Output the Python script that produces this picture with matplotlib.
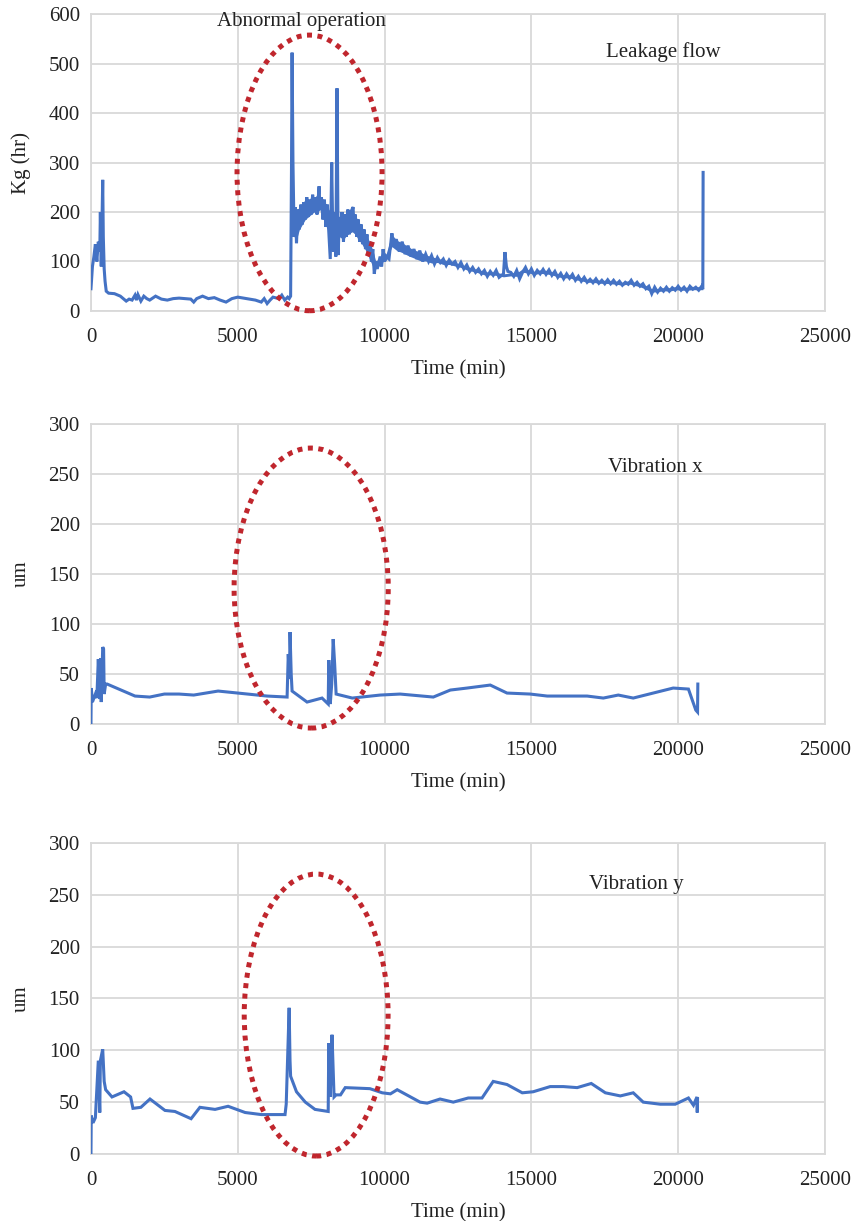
import matplotlib
matplotlib.use("Agg")
import matplotlib.pyplot as plt
from matplotlib.patches import Ellipse

plt.rcParams['font.family'] = ['Liberation Serif', 'DejaVu Serif']

# leakage flow, (time min, kg/hr)
leak_pts = [
    (0, 45), (50, 90), (100, 110), (150, 135), (200, 100), (250, 140), (300, 120),
    (320, 200), (350, 90), (380, 190), (400, 265), (420, 150), (450, 85), (480, 60),
    (520, 40), (600, 36), (800, 35), (1000, 30), (1100, 25), (1200, 20), (1300, 24),
    (1400, 22), (1500, 32), (1550, 22), (1600, 33), (1700, 20), (1800, 30), (1900, 25),
    (2000, 22), (2200, 30), (2400, 24), (2600, 22), (2800, 25), (3000, 26), (3200, 25),
    (3400, 24), (3500, 18), (3600, 25), (3800, 30), (4000, 25), (4200, 27), (4400, 22),
    (4600, 18), (4800, 25), (5000, 28), (5200, 26), (5400, 24), (5600, 22), (5800, 18),
    (5900, 25), (6000, 15), (6100, 22), (6200, 28), (6400, 25), (6500, 32), (6600, 22),
    (6700, 28), (6750, 25), (6800, 30), (6830, 290), (6850, 522), (6880, 300),
    (6920, 150), (6960, 210), (7000, 137), (7050, 205), (7100, 165), (7150, 215),
    (7200, 175), (7250, 220), (7300, 185), (7350, 230), (7400, 190), (7450, 225),
    (7500, 195), (7550, 235), (7600, 200), (7650, 230), (7700, 195), (7770, 252),
    (7800, 205), (7850, 230), (7900, 185), (7950, 225), (8000, 170), (8050, 215),
    (8100, 160), (8150, 105), (8200, 300), (8230, 180), (8260, 120), (8300, 200),
    (8340, 110), (8380, 450), (8420, 113), (8460, 190), (8500, 150), (8550, 200),
    (8600, 140), (8650, 195), (8700, 150), (8750, 205), (8800, 155), (8850, 200),
    (8930, 210), (8950, 160), (9000, 195), (9050, 150), (9100, 185), (9150, 140),
    (9200, 175), (9250, 135), (9300, 165), (9350, 125), (9400, 155), (9450, 115),
    (9500, 140), (9550, 100), (9600, 125), (9650, 75), (9700, 100), (9750, 85),
    (9850, 110), (9900, 90), (9950, 125), (10000, 100), (10050, 110), (10150, 105),
    (10250, 157), (10300, 130), (10400, 145), (10500, 120), (10600, 140), (10700, 115),
    (10800, 132), (10900, 110), (11000, 125), (11100, 105), (11200, 122), (11300, 100),
    (11400, 115), (11500, 100), (11600, 112), (11700, 95), (11800, 108), (11900, 98),
    (12000, 105), (12100, 92), (12200, 103), (12300, 95), (12400, 100), (12500, 88),
    (12600, 98), (12700, 85), (12800, 93), (12900, 80), (13000, 88), (13100, 78),
    (13200, 85), (13300, 75), (13400, 82), (13500, 70), (13600, 80), (13700, 72),
    (13800, 82), (13900, 68), (14050, 75), (14100, 119), (14150, 90), (14200, 80),
    (14300, 78), (14400, 70), (14500, 82), (14600, 65), (14700, 78), (14800, 88),
    (14900, 75), (15000, 85), (15100, 72), (15200, 82), (15300, 75), (15400, 84),
    (15500, 74), (15600, 83), (15700, 72), (15800, 80), (15900, 68), (16000, 76),
    (16100, 65), (16200, 75), (16300, 66), (16400, 74), (16500, 62), (16600, 70),
    (16700, 60), (16800, 68), (16900, 58), (17000, 64), (17100, 57), (17200, 65),
    (17300, 56), (17400, 62), (17500, 55), (17600, 63), (17700, 55), (17800, 62),
    (17900, 54), (18000, 60), (18100, 52), (18200, 58), (18300, 54), (18400, 62),
    (18500, 52), (18600, 58), (18700, 50), (18800, 55), (18900, 45), (19000, 50),
    (19100, 35), (19200, 48), (19300, 38), (19400, 46), (19500, 40), (19600, 48),
    (19700, 40), (19800, 47), (19900, 42), (20000, 50), (20100, 42), (20200, 48),
    (20300, 40), (20400, 50), (20500, 44), (20600, 48), (20700, 42), (20800, 50),
    (20840, 44), (20850, 280),
]
leak_t = [p[0] for p in leak_pts]
leak_v = [p[1] for p in leak_pts]

# spread of the noisy leakage reading after the upset
band_t = [6920, 7000, 7100, 7200, 7300, 7400, 7500, 7600, 7700, 7800, 7900, 8000,
          8100, 8460, 8600, 8700, 8800, 8900, 9000, 9100, 9200, 9300, 9400, 9500,
          9600, 9700, 9850, 9950, 10050, 10250, 10400, 10600, 10800, 11000, 11200,
          11400, 11600, 11800, 12000, 12200, 12400, 12600, 12800, 13000, 13200,
          13400, 13600, 13800, 14050, 14300, 14500, 14700, 14900, 15100, 15300,
          15500, 15700, 15900, 16100, 16300, 16500, 16700, 16900, 17100, 17300,
          17500, 17700, 17900, 18100, 18300, 18500, 18700, 18900, 19100, 19300,
          19500, 19700, 19900, 20100, 20300, 20500, 20700, 20840]
band_lo = [150, 145, 165, 175, 185, 190, 195, 200, 198, 205, 188, 172,
           160, 150, 145, 152, 157, 160, 155, 145, 138, 128, 118, 103,
           90, 88, 92, 100, 102, 130, 123, 118, 112, 107, 102,
           101, 97, 98, 94, 94, 91, 88, 83, 80, 77,
           73, 73, 72, 69, 71, 70, 78, 77, 74, 76,
           75, 73, 69, 67, 67, 63, 61, 58, 58, 56,
           56, 55, 54, 52, 55, 52, 49, 44, 38, 39,
           41, 40, 43, 42, 42, 43, 43, 43]
band_hi = [205, 200, 212, 218, 225, 224, 230, 228, 235, 230, 224, 214,
           205, 185, 195, 196, 202, 205, 193, 183, 172, 163, 152, 138,
           123, 100, 108, 122, 115, 155, 143, 138, 130, 123, 120,
           113, 110, 106, 103, 101, 97, 94, 90, 86, 83,
           79, 79, 78, 75, 77, 77, 85, 83, 80, 83,
           82, 79, 75, 73, 73, 69, 67, 64, 64, 62,
           62, 61, 60, 58, 61, 58, 56, 51, 45, 45,
           47, 47, 49, 48, 48, 49, 49, 49]

# vibration x, um
vibx_t = [0, 10, 50, 150, 200, 250, 300, 330, 350, 400, 430, 450, 500, 550,
          1500, 2000, 2500, 3000, 3500, 4330, 5000, 6000, 6680, 6720, 6760, 6780,
          6820, 6850, 7360, 7870, 8080, 8100, 8150, 8200, 8250, 8300, 8350, 8900,
          9850, 10530, 11660, 12240, 12810, 13600, 14170, 14960, 15540, 16900,
          17450, 17960, 18470, 19830, 20350, 20600, 20660, 20670]
vibx_v = [0, 36, 22, 30, 26, 65, 25, 66, 22, 77, 75, 30, 40, 40,
          28, 27, 30, 30, 29, 33, 31, 28, 27, 70, 45, 92,
          50, 33, 22, 26, 20, 64, 20, 40, 85, 60, 30, 26,
          29, 30, 27, 34, 36, 39, 31, 30, 28, 28,
          26, 29, 26, 36, 35, 14, 12, 40]

# vibration y, um
viby_t = [0, 10, 70, 150, 250, 300, 320, 400, 450, 500, 716, 1125, 1350, 1430,
          1700, 2010, 2520, 2860, 3410, 3710, 4226, 4670, 5250, 5800, 6610, 6650,
          6750, 6780, 6800, 7000, 7300, 7630, 8080, 8100, 8150, 8200, 8210, 8280,
          8350, 8500, 8660, 9500, 9920, 10200, 10430, 11210, 11450, 11890, 12340,
          12850, 13320, 13700, 14170, 14690, 15060, 15640, 16090, 16560, 17040,
          17520, 18030, 18470, 18810, 19390, 19900, 20350, 20520, 20640, 20650, 20660]
viby_v = [0, 37, 30, 35, 90, 40, 90, 101, 70, 62, 55, 60, 55, 44,
          45, 53, 42, 41, 34, 45, 43, 46, 40, 38, 38, 48,
          141, 90, 75, 60, 50, 43, 41, 107, 55, 105, 115, 55,
          57, 57, 64, 63, 59, 58, 62, 50, 49, 53, 50,
          54, 54, 70, 67, 59, 60, 65, 65, 64, 68,
          59, 56, 59, 50, 48, 48, 54, 47, 55, 40, 53]

blue = '#4472c4'
red = '#c0262d'
grid_c = '#d9d9d9'
text_c = '#222222'

panels = [
    dict(t=leak_t, v=leak_v, ymax=600, step=100, ylabel='Kg (hr)',
         tag='Leakage flow', tag_xy=(19500, 523), ell=(7445, 279, 4940, 557),
         rect=[0.1069, 0.7453, 0.8625, 0.2432]),
    dict(t=vibx_t, v=vibx_v, ymax=300, step=50, ylabel='um',
         tag='Vibration x', tag_xy=(19220, 257), ell=(7500, 136, 5250, 280),
         rect=[0.1069, 0.4070, 0.8625, 0.2457]),
    dict(t=viby_t, v=viby_v, ymax=300, step=50, ylabel='um',
         tag='Vibration y', tag_xy=(18575, 260), ell=(7670, 134, 4900, 272),
         rect=[0.1069, 0.0549, 0.8625, 0.2547]),
]

fig = plt.figure(figsize=(8.51, 12.21), dpi=100)

for i, p in enumerate(panels):
    ax = fig.add_axes(p['rect'])
    if i == 0:
        ax.fill_between(band_t, band_lo, band_hi, color=blue, lw=0, zorder=3)
    ax.plot(p['t'], p['v'], color=blue, lw=2.2, solid_joinstyle='miter', zorder=3)
    ax.set_xlim(0, 25000)
    ax.set_ylim(0, p['ymax'])
    ax.set_xticks(range(0, 25001, 5000))
    ax.set_yticks(range(0, p['ymax'] + 1, p['step']))
    ax.grid(True, color=grid_c, lw=1.3)
    ax.set_axisbelow(True)
    for s in ax.spines.values():
        s.set_color(grid_c)
        s.set_linewidth(1.3)
    ax.tick_params(length=0, labelsize=15, colors=text_c)
    ax.tick_params(axis='x', pad=12)
    ax.tick_params(axis='y', pad=8)
    ax.set_xlabel('Time (min)', fontsize=15, color=text_c, labelpad=10)
    ax.set_ylabel(p['ylabel'], fontsize=15, color=text_c, labelpad=13)

    cx, cy, w, h = p['ell']
    ax.add_patch(Ellipse((cx, cy), w, h, fill=False, edgecolor=red, lw=3.6,
                         linestyle=(0, (1.0, 1.1)), clip_on=False, zorder=4))
    ax.text(p['tag_xy'][0], p['tag_xy'][1], p['tag'], fontsize=15,
            ha='center', va='center', color=text_c)
    if i == 0:
        ax.text(7160, 584, 'Abnormal operation', fontsize=15,
                ha='center', va='center', color=text_c, clip_on=False)

fig.savefig('out.png', dpi=100)
